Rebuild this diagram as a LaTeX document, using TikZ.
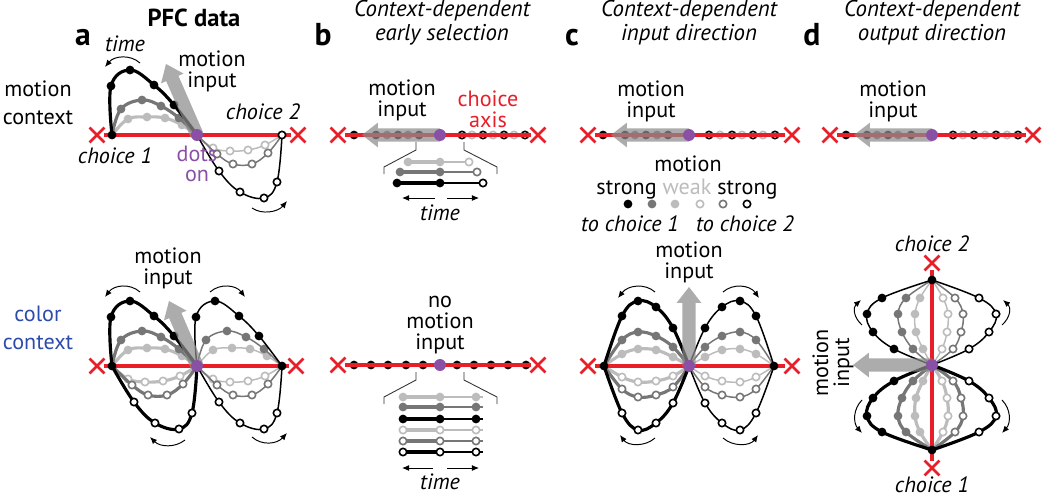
\documentclass[tikz,border=0pt]{standalone}
\usepackage{fontspec}
\setmainfont{PT Sans}
\usetikzlibrary{calc,arrows.meta,shapes.misc}

\definecolor{axred}{RGB}{232,30,40}
\definecolor{dotpurple}{RGB}{138,80,165}
\definecolor{ctxblue}{RGB}{44,76,170}
\definecolor{midg}{RGB}{118,118,118}
\definecolor{lightg}{RGB}{188,188,188}

\tikzset{
  lab/.style={font=\fontsize{12.6}{12}\selectfont, align=center, inner sep=0pt},
  lead/.style={font=\fontsize{12.6}{#1}\selectfont},
  itl/.style={lab, font=\fontsize{12.6}{12}\selectfont\itshape},
  ttl/.style={font=\fontsize{13}{13.6}\selectfont\itshape, align=center, inner sep=0pt},
  hdr/.style={font=\fontsize{14}{14}\selectfont\bfseries, inner sep=0pt},
  panel/.style={font=\fontsize{18}{18}\selectfont\bfseries, inner sep=0pt, anchor=base},
  xmk/.style={cross out, draw=axred, line width=1.5pt, minimum size=7pt, inner sep=0pt},
  axis/.style={axred, line width=2pt},
  origin/.style={circle, fill=dotpurple, minimum size=6.8pt, inner sep=0pt},
  inarr/.style={fill=black!45, fill opacity=0.72},
  tarr/.style={line width=0.55pt, -{Latex[length=4pt,width=3.4pt]}},
  brk/.style={black!80, line width=0.5pt},
  thk/.style={line width=1.8pt}, thn/.style={line width=0.85pt},
  lnblk/.style={black}, lngry/.style={midg}, lnlgt/.style={lightg},
  fdblk/.style={fill=black, radius=2.5pt},
  fdgry/.style={fill=midg, radius=2.5pt},
  fdlgt/.style={fill=lightg, radius=2.5pt},
  hdblk/.style={draw=black, fill=white, line width=0.9pt, radius=2.1pt},
  hdgry/.style={draw=midg, fill=white, line width=0.9pt, radius=2.1pt},
  hdlgt/.style={draw=lightg, fill=white, line width=0.9pt, radius=2.1pt},
}

% one trajectory from (0,0) to (85,0) through the listed points
\newcommand\traj[3]{%
  \def\trajpts{(0,0)}%
  \foreach \px/\py in {#3}{\xdef\trajpts{\trajpts\space(\px,\py)}}%
  \edef\trajcmd{\noexpand\draw[#1] plot[smooth, tension=0.65] coordinates {\trajpts\space(85,0)};}%
  \trajcmd
  \foreach \px/\py in {#3}{\path[#2] (\px,\py) circle[];}%
}
% tilted lobe (PFC data)
\newcommand\tiltup{%
  \traj{lnlgt}{fdlgt}{16/-16,35/-18,53/-17,70/-10}
  \traj{lngry}{fdgry}{9/-26,30/-35,49/-29,67/-17}
  \traj{lnblk}{fdblk}{-1/-49,18/-65,42/-50,62/-30}}
\newcommand\tiltdown{%
  \traj{lnlgt}{hdlgt}{16/13,33/16,51/15,68/10}
  \traj{lngry}{hdgry}{20/19,36/29,55/29,71/18}
  \traj{lnblk}{hdblk}{22/36,43/57,67/63,80/47}}
% round lobe (models)
\newcommand\roundup{%
  \traj{lnlgt}{fdlgt}{18/-12,34/-17,52/-16,69/-9}
  \traj{lngry}{fdgry}{18/-26,34/-34,52/-30,69/-19}
  \traj{lnblk}{fdblk}{18/-50,34/-65,52/-59,69/-38}}
\newcommand\rounddown{%
  \traj{lnlgt}{hdlgt}{18/11,34/16,52/15,69/10}
  \traj{lngry}{hdgry}{18/23,34/31,52/29,69/21}
  \traj{lnblk}{hdblk}{18/47,34/64,52/57,69/37}}
% wide see-through input arrow
\newcommand\bigarrow[2]{%
  \coordinate (ahb) at ($(#2)!9pt!(#1)$);
  \fill[inarr] ($(#1)!3.8pt!90:(#2)$) -- ($(ahb)!3.8pt!90:(#2)$) -- ($(ahb)!7pt!90:(#2)$)
    -- (#2) -- ($(ahb)!7pt!-90:(#2)$) -- ($(ahb)!3.8pt!-90:(#2)$) -- ($(#1)!3.8pt!-90:(#2)$) -- cycle;}

\begin{document}
\begin{tikzpicture}[x=0.02cm, y=-0.02cm]
\useasboundingbox (0,0) rectangle (1050,497);

% headings
\node[panel] (laba) at (83,45) {a};
\node[panel] (labb) at (323,45) {b};
\node[panel] (labc) at (572,45) {c};
\node[panel] (labd) at (812,45) {d};
\node[hdr] (pfc) at (194,18) {PFC data};
\node[ttl] (ttlb) at (442,23) {Context-dependent\\early selection};
\node[ttl] (ttlc) at (689,23) {Context-dependent\\input direction};
\node[ttl] (ttld) at (932,23) {Context-dependent\\output direction};

% a, motion context
\node[lab, lead=16pt] (mctx) at (38,103) {motion\\context};
\node[xmk] (xa1) at (97,135) {};
\node[xmk] (xa2) at (298,135) {};
\coordinate (oa) at (197,135);
\begin{scope}[shift={(112,135)}, thk] \tiltup \end{scope}
\begin{scope}[shift={(197,135)}, thn] \tiltdown \end{scope}
\draw[axis] (xa1) -- (xa2);
\path[fdblk] (112,135) circle[];
\path[hdblk] (282,135) circle[];
\coordinate (ta) at (166,64);
\bigarrow{oa}{ta}
\node[origin] (pa) at (oa) {};
\node[itl] (tma) at (125,44) {time};
\draw[tarr] (140,63) .. controls (130,54) and (114,56) .. (105,67);
\draw[tarr] (252,208) .. controls (262,215) and (278,212) .. (287,201);
\node[lab] (mia) at (212,71) {motion\\input};
\node[itl] (c1a) at (115,156) {choice 1};
\node[itl] (c2a) at (263,112) {choice 2};
\node[lab, lead=11.5pt, text=dotpurple] (don) at (197,164) {dots\\on};

% a, color context
\node[lab, lead=16pt, text=ctxblue] (cctx) at (38,328) {color\\context};
\node[xmk] (xa3) at (97,366) {};
\node[xmk] (xa4) at (296,366) {};
\coordinate (oa2) at (197,366);
\begin{scope}[shift={(112,366)}, thk] \tiltup \tiltdown \end{scope}
\begin{scope}[shift={(197,366)}, thn] \tiltup \tiltdown \end{scope}
\draw[axis] (xa3) -- (xa4);
\path[fdblk] (112,366) circle[] (282,366) circle[];
\coordinate (ta2) at (169,301);
\bigarrow{oa2}{ta2}
\node[origin] (pa2) at (oa2) {};
\node[lab] (mia2) at (168,268) {motion\\input};
\draw[tarr] (140,292) .. controls (130,283) and (114,285) .. (105,297);
\draw[tarr] (185,440) .. controls (175,448) and (160,447) .. (150,437);
\draw[tarr] (210,292) .. controls (220,283) and (236,285) .. (245,297);
\draw[tarr] (252,437) .. controls (262,446) and (277,444) .. (287,433);

% b, motion context
\node[xmk] (xb1) at (338,135) {};
\node[xmk] (xb2) at (538,135) {};
\coordinate (ob) at (440,135);
\foreach \xx in {387,408} \path[fdgry] (\xx,135) circle[];
\foreach \xx in {354,376,398,419} \path[fdblk] (\xx,135) circle[];
\foreach \xx in {472,493,514} \path[hdlgt] (\xx,135) circle[];
\foreach \xx in {462,483,504,525} \path[hdblk] (\xx,135) circle[];
\draw[axis] (xb1) -- (xb2);
\coordinate (tb) at (362,135);
\bigarrow{ob}{tb}
\node[origin] (pb) at (ob) {};
\node[lab] (mib) at (402,100) {motion\\input};
\node[lab, text=axred] (cax) at (488,109) {choice\\axis};
\draw[brk] (416,142) -- (416,150) -- (384,167) -- (384,174);
\draw[brk] (464,142) -- (464,150) -- (497,167) -- (497,174);
\foreach \yy/\xs/\xe/\cc in {162/408/469/lightg,172/400/477/midg,183/397/483/black}{
  \draw[\cc, thk] (\xs,\yy) -- (440,\yy);
  \draw[\cc, thn] (440,\yy) -- (\xe,\yy);
  \fill[\cc] (\xs,\yy) circle (2.5pt) (440,\yy) circle (2.5pt);
  \draw[\cc, fill=white, line width=0.9pt] (\xe,\yy) circle (2.1pt);
}
\draw[tarr] (435,198) -- (402,198);
\draw[tarr] (447,198) -- (479,198);
\node[itl] (tmb) at (440,213) {time};

% b, color context
\node[xmk] (xb3) at (338,365) {};
\node[xmk] (xb4) at (538,365) {};
\foreach \xx in {354,371,388,406,423,457,474,491,508,526} \path[fdblk] (\xx,365) circle[];
\draw[axis] (xb3) -- (xb4);
\node[origin] (pb2) at (440,365) {};
\node[lab] (nomi) at (440,325) {no\\motion\\input};
\draw[brk] (416,372) -- (416,380) -- (384,397) -- (384,404);
\draw[brk] (464,372) -- (464,380) -- (497,397) -- (497,404);
\foreach \yy/\cc in {397/lightg,407/midg,419/black}{
  \draw[\cc, thk] (400,\yy) -- (440,\yy);
  \draw[\cc, thn] (440,\yy) -- (483,\yy);
  \fill[\cc] (403,\yy) circle (2.5pt) (440,\yy) circle (2.5pt) (476,\yy) circle (2.5pt);
}
\foreach \yy/\cc in {430/lightg,441/midg,452/black}{
  \draw[\cc, thk] (400,\yy) -- (440,\yy);
  \draw[\cc, thn] (440,\yy) -- (483,\yy);
  \draw[\cc, fill=white, line width=0.9pt] (403,\yy) circle (2.1pt) (440,\yy) circle (2.1pt) (476,\yy) circle (2.1pt);
}
\draw[tarr] (433,468) -- (402,468);
\draw[tarr] (447,468) -- (479,468);
\node[itl] (tmb2) at (440,482) {time};

% c, motion context
\node[xmk] (xc1) at (588,135) {};
\node[xmk] (xc2) at (792,135) {};
\coordinate (oc) at (689,135);
\foreach \xx in {635,657} \path[fdgry] (\xx,135) circle[];
\foreach \xx in {603,625,646,668} \path[fdblk] (\xx,135) circle[];
\foreach \xx in {720,742,763} \path[hdlgt] (\xx,135) circle[];
\foreach \xx in {709,732,753,775} \path[hdblk] (\xx,135) circle[];
\draw[axis] (xc1) -- (xc2);
\coordinate (tc) at (611,135);
\bigarrow{oc}{tc}
\node[origin] (pc) at (oc) {};
\node[lab] (mic) at (651,101) {motion\\input};
\node[lab] (lmot) at (688,164) {motion};
\node[lab] (lstr) at (687,189) {strong \textcolor{lightg}{weak} strong};
\foreach \xx/\st in {628/fdblk,652/fdgry,675/fdlgt,700/hdlgt,723/hdgry,747/hdblk} \path[\st] (\xx,204) circle[];
\node[itl] (ltc1) at (630,224) {to choice 1};
\node[itl] (ltc2) at (745,224) {to choice 2};

% c, color context
\node[xmk] (xc3) at (588,366) {};
\node[xmk] (xc4) at (792,366) {};
\coordinate (oc2) at (689,366);
\begin{scope}[shift={(604,366)}, thk] \roundup \rounddown \end{scope}
\begin{scope}[shift={(774,366)}, xscale=-1, thn] \roundup \rounddown \end{scope}
\draw[axis] (xc3) -- (xc4);
\path[fdblk] (604,366) circle[] (774,366) circle[];
\coordinate (tc2) at (689,287);
\bigarrow{oc2}{tc2}
\node[origin] (pc2) at (oc2) {};
\node[lab] (mic2) at (689,262) {motion\\input};
\draw[tarr] (655,292) .. controls (645,283) and (628,285) .. (618,298);
\draw[tarr] (723,292) .. controls (733,283) and (750,285) .. (759,298);
\draw[tarr] (655,438) .. controls (645,447) and (628,446) .. (620,435);
\draw[tarr] (723,438) .. controls (733,447) and (750,446) .. (758,435);

% d, motion context
\node[xmk] (xd1) at (830,135) {};
\node[xmk] (xd2) at (1033,135) {};
\coordinate (od) at (932,135);
\foreach \xx in {877,898} \path[fdgry] (\xx,135) circle[];
\foreach \xx in {846,867,888,911} \path[fdblk] (\xx,135) circle[];
\foreach \xx in {963,985,1007} \path[hdlgt] (\xx,135) circle[];
\foreach \xx in {953,974,996,1018} \path[hdblk] (\xx,135) circle[];
\draw[axis] (xd1) -- (xd2);
\coordinate (td) at (854,135);
\bigarrow{od}{td}
\node[origin] (pd) at (od) {};
\node[lab] (mid) at (893,101) {motion\\input};

% d, color context
\node[xmk] (xd3) at (932,263) {};
\node[xmk] (xd4) at (932,468) {};
\coordinate (od2) at (932,365);
\begin{scope}[shift={(932,280)}, x={(0,-0.02cm)}, y={(0.02cm,0)}, thn] \roundup \rounddown \end{scope}
\begin{scope}[shift={(932,450)}, x={(0,0.02cm)}, y={(0.02cm,0)}, thk] \roundup \rounddown \end{scope}
\draw[axis] (xd3) -- (xd4);
\path[fdblk] (932,280) circle[] (932,450) circle[];
\coordinate (td2) at (853,365);
\bigarrow{od2}{td2}
\node[origin] (pd2) at (od2) {};
\node[itl] (c2d) at (932,244) {choice 2};
\node[itl] (c1d) at (932,485) {choice 1};
\node[lab, rotate=90] (mid2) at (833,363) {motion\\input};
\draw[tarr] (862,325) .. controls (853,317) and (853,307) .. (861,300);
\draw[tarr] (1002,325) .. controls (1011,317) and (1011,307) .. (1003,300);
\draw[tarr] (862,400) .. controls (853,409) and (853,423) .. (862,433);
\draw[tarr] (1002,400) .. controls (1011,409) and (1011,423) .. (1002,433);
\end{tikzpicture}
\end{document}
